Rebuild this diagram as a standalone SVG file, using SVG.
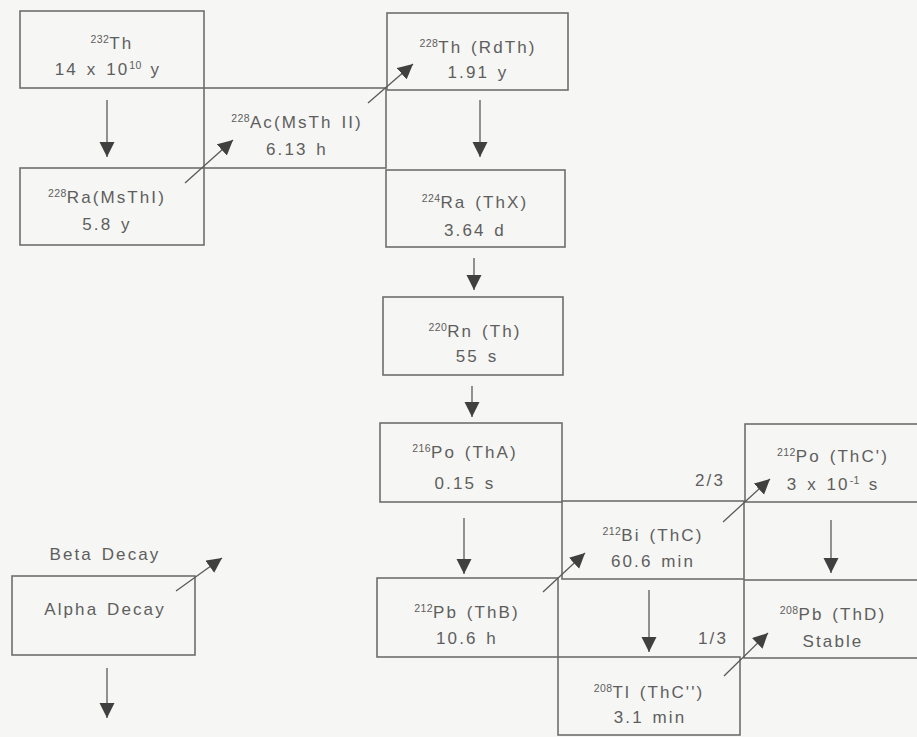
<svg xmlns="http://www.w3.org/2000/svg" width="917" height="737" viewBox="0 0 917 737">
<style>
.box{fill:none;stroke:#6e6e6e;stroke-width:1.6}
.t{font-family:"Liberation Sans",Arial,sans-serif;font-size:17px;fill:#5e5e5e;text-anchor:middle;letter-spacing:2.1px;word-spacing:2px}
.s{font-size:10.5px;letter-spacing:0.4px}
.c{stroke:#5a5a5a;stroke-width:1.3;fill:none;marker-end:url(#ah)}
</style>
<defs>
<marker id="ah" markerUnits="userSpaceOnUse" markerWidth="18" markerHeight="18" refX="15" refY="7.5" orient="auto">
<path d="M0,0 L15,7.5 L0,15 z" fill="#404040"/>
</marker>
</defs>
<rect width="917" height="737" fill="#f6f6f4"/>

<g id="th232"><rect class="box" x="20" y="11" width="184" height="77"/>
<text class="t" x="112" y="49"><tspan class="s" dy="-6">232</tspan><tspan dy="6">Th</tspan></text>
<text class="t" x="108" y="75">14 x 10<tspan class="s" dy="-6">10</tspan><tspan dy="6"> y</tspan></text></g>

<g id="ac228"><rect class="box" x="204" y="88" width="182" height="80"/>
<text class="t" x="297" y="128"><tspan class="s" dy="-6">228</tspan><tspan dy="6">Ac(MsTh II)</tspan></text>
<text class="t" x="297" y="155">6.13 h</text></g>

<g id="ra228"><rect class="box" x="20" y="168" width="184" height="77"/>
<text class="t" x="107" y="203"><tspan class="s" dy="-6">228</tspan><tspan dy="6">Ra(MsThI)</tspan></text>
<text class="t" x="107" y="230">5.8 y</text></g>

<g id="th228"><rect class="box" x="387" y="13" width="181" height="77"/>
<text class="t" x="478" y="53"><tspan class="s" dy="-6">228</tspan><tspan dy="6">Th (RdTh)</tspan></text>
<text class="t" x="478" y="78">1.91 y</text></g>

<g id="ra224"><rect class="box" x="386" y="170" width="179" height="77"/>
<text class="t" x="475" y="208"><tspan class="s" dy="-6">224</tspan><tspan dy="6">Ra (ThX)</tspan></text>
<text class="t" x="475" y="236">3.64 d</text></g>

<g id="rn220"><rect class="box" x="383" y="297" width="180" height="78"/>
<text class="t" x="475" y="337"><tspan class="s" dy="-6">220</tspan><tspan dy="6">Rn (Th)</tspan></text>
<text class="t" x="477" y="362">55 s</text></g>

<g id="po216"><rect class="box" x="380" y="423" width="182" height="79"/>
<text class="t" x="465" y="458"><tspan class="s" dy="-6">216</tspan><tspan dy="6">Po (ThA)</tspan></text>
<text class="t" x="465" y="489">0.15 s</text></g>

<g id="bi212"><rect class="box" x="562" y="501" width="182" height="78"/>
<text class="t" x="653" y="541"><tspan class="s" dy="-6">212</tspan><tspan dy="6">Bi (ThC)</tspan></text>
<text class="t" x="653" y="567">60.6 min</text></g>

<g id="po212"><rect class="box" x="745" y="424" width="180" height="78"/>
<text class="t" x="833" y="462"><tspan class="s" dy="-6">212</tspan><tspan dy="6">Po (ThC')</tspan></text>
<text class="t" x="833" y="490">3 x 10<tspan class="s" dy="-6">-1</tspan><tspan dy="6"> s</tspan></text></g>

<g id="pb212"><rect class="box" x="377" y="578" width="181" height="79"/>
<text class="t" x="467" y="618"><tspan class="s" dy="-6">212</tspan><tspan dy="6">Pb (ThB)</tspan></text>
<text class="t" x="467" y="644">10.6 h</text></g>

<g id="tl208"><rect class="box" x="558" y="657" width="182" height="78"/>
<text class="t" x="649" y="698"><tspan class="s" dy="-6">208</tspan><tspan dy="6">Tl (ThC'')</tspan></text>
<text class="t" x="650" y="723">3.1 min</text></g>

<g id="pb208"><rect class="box" x="744" y="580" width="180" height="78"/>
<text class="t" x="833" y="620"><tspan class="s" dy="-6">208</tspan><tspan dy="6">Pb (ThD)</tspan></text>
<text class="t" x="833" y="647">Stable</text></g>

<g id="legend"><rect class="box" x="12" y="576" width="183" height="79"/>
<text class="t" x="105" y="560">Beta Decay</text>
<text class="t" x="105" y="615">Alpha Decay</text></g>

<g id="labels">
<text class="t" x="710" y="486">2/3</text>
<text class="t" x="713" y="644">1/3</text>
</g>

<g id="connectors">
<line class="c" x1="107" y1="100" x2="107" y2="157"/>
<line class="c" x1="185" y1="183" x2="233" y2="140"/>
<line class="c" x1="368" y1="103" x2="413" y2="64"/>
<line class="c" x1="480" y1="100" x2="480" y2="157"/>
<line class="c" x1="474" y1="258" x2="474" y2="290"/>
<line class="c" x1="472" y1="386" x2="472" y2="417"/>
<line class="c" x1="464" y1="518" x2="464" y2="574"/>
<line class="c" x1="543" y1="592" x2="585" y2="553"/>
<line class="c" x1="723" y1="522" x2="770" y2="479"/>
<line class="c" x1="831" y1="520" x2="831" y2="573"/>
<line class="c" x1="649" y1="590" x2="649" y2="652"/>
<line class="c" x1="724" y1="676" x2="768" y2="633"/>
<line class="c" x1="176" y1="591" x2="222" y2="558"/>
<line class="c" x1="107" y1="668" x2="107" y2="718"/>
</g>
</svg>
